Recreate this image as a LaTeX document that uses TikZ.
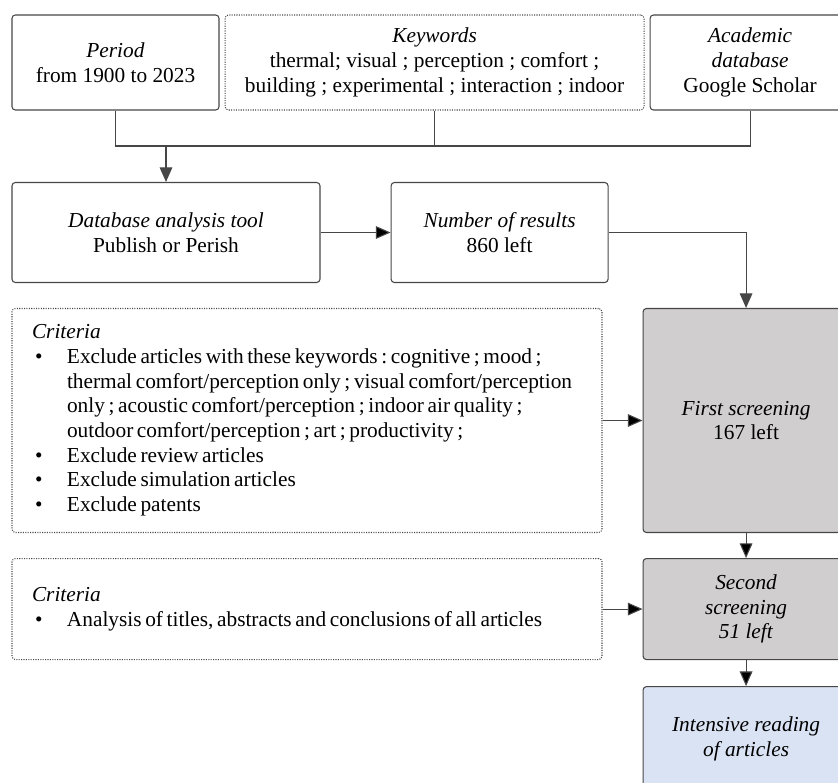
\documentclass[tikz,border=0pt]{standalone}
\usepackage{fontspec}
\setmainfont{Liberation Serif}
\usetikzlibrary{positioning,arrows.meta}

\definecolor{linegrey}{RGB}{70,70,70}
\definecolor{screengrey}{RGB}{208,206,206}
\definecolor{readblue}{RGB}{218,227,243}

\newcommand{\critem}[1]{\hspace*{2.25pt}\makebox[24pt][l]{\textbullet}\mbox{\spaceskip=0.17em\relax#1}}
\newcommand{\critline}[1]{\hspace*{26.25pt}\mbox{\spaceskip=0.17em\relax#1}}
\frenchspacing

\begin{document}
\begin{tikzpicture}[
  x=0.75pt, y=-0.75pt,
  box/.style={draw=linegrey,line width=0.8pt,rounded corners=2.5pt,align=center,
    inner sep=0pt,font=\fontsize{16}{18.5}\selectfont},
  dotbox/.style={box,densely dotted},
  critbox/.style={dotbox,align=left,text width=412.5pt,inner xsep=15pt,minimum width=442.5pt},
  screenbox/.style={box,fill=screengrey,minimum width=154.5pt},
  link/.style={draw=linegrey,line width=0.8pt},
  >={Triangle[length=11pt,width=9.5pt]},
  ]
  \useasboundingbox (0,0) rectangle (838,782);
  \clip (0,0) rectangle (838,782);

  % search set-up
  \node[box,minimum width=155.25pt,minimum height=71.25pt] (period) at (115.5,62.5)
    {\textit{Period}\\from 1900 to 2023};
  \node[dotbox,right=3.75pt of period,minimum width=314.25pt,minimum height=71.25pt] (keywords)
    {\textit{Keywords}\\thermal; visual ; perception ; comfort ;\\building ; experimental ; interaction ; indoor};
  \node[box,right=3.75pt of keywords,minimum width=150pt,minimum height=71.25pt] (academic)
    {\textit{Academic}\\\textit{database}\\Google Scholar};
  \coordinate (join) at (166,146);

  \node[box,minimum width=231pt,minimum height=75pt] (tool) at (166,232.5)
    {\textit{Database analysis tool}\\Publish or Perish};
  \node[box,right=52.5pt of tool,minimum width=162.75pt,minimum height=75pt] (results)
    {\textit{Number of results}\\860 left};

  % screenings
  \node[critbox,minimum height=168pt] (crit1) at (307,420.5)
    {\textit{Criteria}\\
     \critem{Exclude articles with these keywords : cognitive ; mood ;}\\
     \critline{thermal comfort/perception only ; visual comfort/perception}\\
     \critline{only ; acoustic comfort/perception ; indoor air quality ;}\\
     \critline{outdoor comfort/perception ; art ; productivity ;}\\
     \critem{Exclude review articles}\\
     \critem{Exclude simulation articles}\\
     \critem{Exclude patents}};
  \node[screenbox,right=30pt of crit1,minimum height=168pt] (screen1)
    {\textit{First screening}\\167 left};
  \node[critbox,below=18.75pt of crit1,minimum height=75.75pt] (crit2)
    {\textit{Criteria}\\
     \critem{Analysis of titles, abstracts and conclusions of all articles}};
  \node[screenbox,right=30pt of crit2,minimum height=75.75pt] (screen2)
    {\textit{Second}\\\textit{screening}\\\textit{51 left}};
  \node[box,fill=readblue,below=19.5pt of screen2,minimum width=154.5pt,minimum height=78.75pt] (reading)
    {\textit{Intensive reading}\\\textit{of articles}};

  \draw[link] (period) |- (academic |- join) -- (academic);
  \draw[link] (keywords) -- (keywords |- join);
  \draw[link,->] (join) -- (tool);
  \draw[link,->] (results) -| (screen1);
  \path[link,->]
  (tool) edge (results)
  (crit1) edge (screen1)
  (screen1) edge (screen2)
  (crit2) edge (screen2)
  (screen2) edge (reading);
\end{tikzpicture}
\end{document}
